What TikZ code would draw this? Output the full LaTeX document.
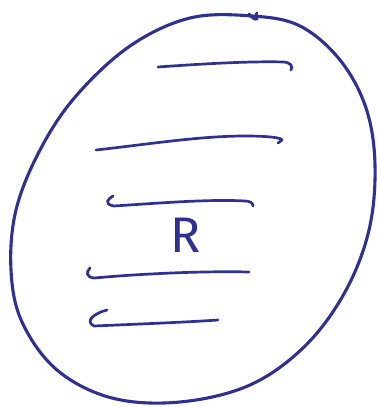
\documentclass[tikz,border=0pt]{standalone}
\usepackage{fontspec}
\newfontfamily\handfont{Fira Sans}
\definecolor{ink}{RGB}{46,49,146}
\begin{document}
\begin{tikzpicture}[x=1pt,y=-1pt,
  pen/.style={draw=ink,line width=3.1pt,line cap=round,line join=round},
  thinpen/.style={draw=ink,line width=2.7pt,line cap=round,line join=round}]
\useasboundingbox (0,0) rectangle (377,407);
% outline
\draw[pen] plot[smooth cycle,tension=0.6] coordinates{
 (252,16) (300,26) (340,60) (366,108) (375,165) (369,230) (345,292)
 (305,346) (250,385) (180,402) (112,398) (57,370) (22,322) (11,270)
 (16,210) (40,150) (76,96) (130,46) (190,18)};
\draw[thinpen] (249,14) .. controls (252,18) and (255,20) .. (257,19)
  .. controls (256,16) and (255,14) .. (257,13);
% strokes
\draw[thinpen] (158,67) .. controls (200,64) and (250,61) .. (284,62)
  .. controls (291,63) and (293,66) .. (291,70);
\draw[thinpen] (96,150) .. controls (150,144) and (200,136) .. (245,136)
  .. controls (270,136) and (282,138) .. (282,140) -- (278,143);
\draw[thinpen] (113,196) .. controls (108,199) and (103,204) .. (114,206)
  .. controls (160,203) and (210,199) .. (245,201)
  .. controls (250,201) and (253,203) .. (253,206);
\draw[thinpen] (90,268) .. controls (86,272) and (86,277) .. (94,278)
  .. controls (150,273) and (210,271) .. (249,272);
\draw[thinpen] (107,310) .. controls (95,313) and (84,321) .. (94,326)
  .. controls (140,324) and (190,322) .. (218,320);
% letter
\node[text=ink,font=\handfont\fontsize{50}{50}\selectfont,inner sep=0pt] (r) at (186,235) {R};
\end{tikzpicture}
\end{document}
